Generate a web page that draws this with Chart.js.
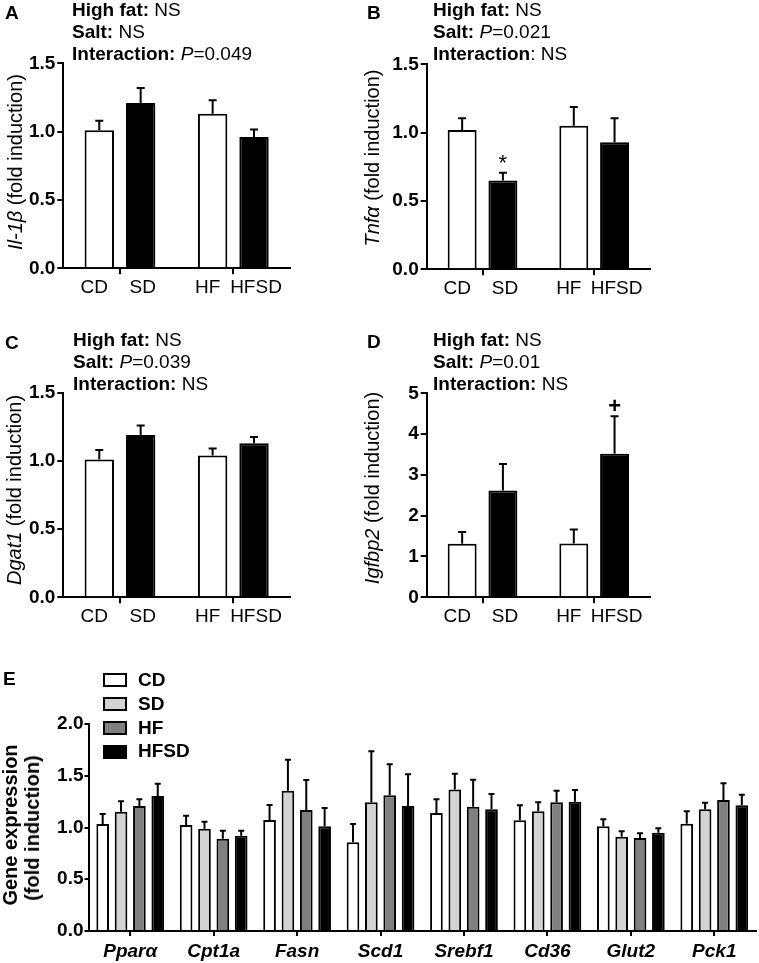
<!DOCTYPE html>
<html><head><meta charset="utf-8">
<script src="https://cdn.jsdelivr.net/npm/chart.js@4.4.1/dist/chart.umd.min.js"></script>
<style>
html,body{margin:0;padding:0;background:#fff;}
body{width:759px;height:963px;position:relative;overflow:hidden;font-family:"Liberation Sans",Arial,sans-serif;color:#000;}
canvas{position:absolute;}
.t{position:absolute;white-space:nowrap;font-size:19px;line-height:22px;z-index:2;}
.yt{position:absolute;white-space:nowrap;font-size:20px;line-height:20px;transform:translate(-50%,-50%) rotate(-90deg);z-index:2;}
.lb{position:absolute;box-sizing:border-box;border:2px solid #000;width:24px;height:14px;z-index:2;}
</style></head><body>

<div class="t" style="left:5px;top:2px;font-weight:bold">A</div>
<div class="t" style="left:367px;top:2px;font-weight:bold">B</div>
<div class="t" style="left:5px;top:332px;font-weight:bold">C</div>
<div class="t" style="left:367px;top:331px;font-weight:bold">D</div>
<div class="t" style="left:3px;top:668px;font-weight:bold">E</div>

<div class="t" style="left:72px;top:-1px"><b>High fat:</b> NS<br><b>Salt:</b> NS<br><b>Interaction:</b> <i>P</i>=0.049</div>
<div class="t" style="left:433px;top:-1px"><b>High fat:</b> NS<br><b>Salt:</b> <i>P</i>=0.021<br><b>Interaction</b>: NS</div>
<div class="t" style="left:73px;top:329px"><b>High fat:</b> NS<br><b>Salt:</b> <i>P</i>=0.039<br><b>Interaction:</b> NS</div>
<div class="t" style="left:433px;top:329px"><b>High fat:</b> NS<br><b>Salt:</b> <i>P</i>=0.01<br><b>Interaction:</b> NS</div>

<div class="yt" style="left:15px;top:162px"><i>Il-1β</i> (fold induction)</div>
<div class="yt" style="left:372px;top:158px"><i>Tnfα</i> (fold induction)</div>
<div class="yt" style="left:14px;top:490px"><i>Dgat1</i> (fold induction)</div>
<div class="yt" style="left:372px;top:488px"><i>Igfbp2</i> (fold induction)</div>
<div class="yt" style="left:10px;top:825px;font-weight:bold">Gene expression</div>
<div class="yt" style="left:32px;top:828px;font-weight:bold">(fold induction)</div>

<div id="legend"></div>

<canvas id="cA" width="360" height="300" style="left:0;top:0"></canvas>
<canvas id="cB" width="394" height="300" style="left:365px;top:0"></canvas>
<canvas id="cC" width="360" height="310" style="left:0;top:320px"></canvas>
<canvas id="cD" width="394" height="310" style="left:365px;top:320px"></canvas>
<canvas id="cE" width="759" height="323" style="left:0;top:640px"></canvas>

<script>
// ---------- data ----------
const groups = ['CD', 'SD', 'HF', 'HFSD'];

const il1bMean = [1.01, 1.21, 1.13, 0.96];
const il1bSem  = [0.07, 0.11, 0.10, 0.055];

const tnfaMean = [1.02, 0.65, 1.05, 0.93];
const tnfaSem  = [0.086, 0.056, 0.137, 0.175];

const dgat1Mean = [1.01, 1.19, 1.04, 1.13];
const dgat1Sem  = [0.07, 0.07, 0.05, 0.045];

const igfbp2Mean = [1.31, 2.62, 1.32, 3.52];
const igfbp2Sem  = [0.29, 0.65, 0.34, 0.92];

const genes = ['Pparα', 'Cpt1a', 'Fasn', 'Scd1', 'Srebf1', 'Cd36', 'Glut2', 'Pck1'];
const cdMean   = [1.034, 1.024, 1.072, 0.857, 1.140, 1.069, 1.011, 1.037];
const cdSem    = [0.096, 0.090, 0.145, 0.177, 0.132, 0.145, 0.068, 0.119];
const sdMean   = [1.153, 0.989, 1.356, 1.243, 1.366, 1.156, 0.911, 1.176];
const sdSem    = [0.100, 0.067, 0.299, 0.493, 0.154, 0.087, 0.052, 0.064];
const hfMean   = [1.208, 0.892, 1.169, 1.311, 1.201, 1.243, 0.899, 1.266];
const hfSem    = [0.064, 0.077, 0.290, 0.300, 0.261, 0.113, 0.045, 0.161];
const hfsdMean = [1.304, 0.921, 1.011, 1.208, 1.176, 1.250, 0.950, 1.214];
const hfsdSem  = [0.119, 0.048, 0.177, 0.306, 0.148, 0.112, 0.042, 0.103];

const groupColors = ['#ffffff', '#d3d3d3', '#808080', '#000000'];

// ---------- helpers ----------
const FONT = "'Liberation Sans', Arial, sans-serif";

const errPlugin = {
  id: 'errbars',
  afterDatasetsDraw(chart, args, opts) {
    const ctx = chart.ctx, y = chart.scales.y;
    chart.data.datasets.forEach((ds, i) => {
      const meta = chart.getDatasetMeta(i);
      meta.data.forEach((el, j) => {
        const top = y.getPixelForValue(ds.data[j] + ds.sem[j]);
        ctx.save();
        ctx.strokeStyle = '#000';
        ctx.lineWidth = 2;
        ctx.beginPath();
        ctx.moveTo(el.x, el.y);
        ctx.lineTo(el.x, top);
        ctx.moveTo(el.x - opts.cap, top);
        ctx.lineTo(el.x + opts.cap, top);
        ctx.stroke();
        ctx.fillStyle = '#000';
        ctx.textAlign = 'center';
        ctx.textBaseline = 'alphabetic';
        if (ds.marks && ds.marks[j]) {
          ctx.font = (ds.marks[j] === '+' ? 'bold ' : '') + '22px ' + FONT;
          ctx.fillText(ds.marks[j], el.x, top - 3);
        }
        if (ds.barLabels) {
          ctx.font = '19px ' + FONT;
          ctx.fillText(ds.barLabels[j], el.x + (ds.labelShift || 0), chart.chartArea.bottom + 25);
        }
        ctx.restore();
      });
    });
  }
};

function layoutFor(canvas, area) {
  const cx = parseFloat(canvas.style.left) || 0;
  const cy = parseFloat(canvas.style.top) || 0;
  return {
    padding: { left: 0, top: area.t - cy, right: cx + canvas.width - area.r, bottom: 0 },
    yWidth: area.l - cx,
    xHeight: cy + canvas.height - area.b
  };
}

function axisCommon() {
  return {
    border: { display: true, color: '#000', width: 2 },
    grid: { display: true, drawOnChartArea: false, drawTicks: true, color: '#000', lineWidth: 2 }
  };
}

function smallPanel(id, mean, sem, yMax, yStep, dec, marks, area) {
  const canvas = document.getElementById(id);
  const L = layoutFor(canvas, area);
  const pick = (arr, k) => [arr[k], arr[k + 2]];
  const mk = marks || {};
  const datasets = [0, 1].map(k => ({
    data: pick(mean, k),
    sem: pick(sem, k),
    barLabels: pick(groups, k),
    labelShift: k === 0 ? -5 : 2,
    marks: [mk[k] || null, mk[k + 2] || null],
    backgroundColor: k === 0 ? '#ffffff' : '#000000',
    borderColor: '#000',
    borderWidth: 2,
    categoryPercentage: 0.73,
    barPercentage: 0.71
  }));
  const xc = axisCommon(), yc = axisCommon();
  new Chart(canvas, {
    type: 'bar',
    data: { labels: [groups[0] + '/' + groups[1], groups[2] + '/' + groups[3]], datasets },
    options: {
      responsive: false, animation: false, events: [],
      layout: { padding: L.padding },
      plugins: { legend: { display: false }, tooltip: { enabled: false }, errbars: { cap: 4 } },
      scales: {
        x: {
          border: xc.border,
          grid: Object.assign({}, xc.grid, { offset: false, tickLength: 6 }),
          ticks: { display: false },
          afterFit: s => { s.height = L.xHeight; }
        },
        y: {
          min: 0, max: yMax,
          border: yc.border,
          grid: Object.assign({}, yc.grid, { tickLength: 6 }),
          ticks: {
            stepSize: yStep, padding: 2, color: '#000',
            font: { family: FONT, size: 19, weight: 'bold' },
            callback: v => Number(v).toFixed(dec)
          },
          afterFit: s => { s.width = L.yWidth; }
        }
      }
    },
    plugins: [errPlugin]
  });
}

smallPanel('cA', il1bMean, il1bSem, 1.5, 0.5, 1, null, { l: 63.3, r: 290, t: 63.3, b: 268.3 });
smallPanel('cB', tnfaMean, tnfaSem, 1.5, 0.5, 1, { 1: '*' }, { l: 426.7, r: 650, t: 64.3, b: 269.3 });
smallPanel('cC', dgat1Mean, dgat1Sem, 1.5, 0.5, 1, null, { l: 63.3, r: 290, t: 392.7, b: 597.3 });
smallPanel('cD', igfbp2Mean, igfbp2Sem, 5, 1, 0, { 3: '+' }, { l: 426.7, r: 650, t: 393.3, b: 597.3 });

// ---------- panel E ----------
(function () {
  const canvas = document.getElementById('cE');
  const L = layoutFor(canvas, { l: 88.5, r: 756, t: 724, b: 931 });
  const means = [cdMean, sdMean, hfMean, hfsdMean];
  const sems = [cdSem, sdSem, hfSem, hfsdSem];
  const datasets = groups.map((g, k) => ({
    label: g,
    data: means[k],
    sem: sems[k],
    backgroundColor: groupColors[k],
    borderColor: '#000',
    borderWidth: 2,
    categoryPercentage: 0.88,
    barPercentage: 0.69
  }));
  const xc = axisCommon(), yc = axisCommon();
  new Chart(canvas, {
    type: 'bar',
    data: { labels: genes, datasets },
    options: {
      responsive: false, animation: false, events: [],
      layout: { padding: L.padding },
      plugins: { legend: { display: false }, tooltip: { enabled: false }, errbars: { cap: 3 } },
      scales: {
        x: {
          border: xc.border,
          grid: Object.assign({}, xc.grid, { offset: false, tickLength: 5 }),
          ticks: {
            padding: 4, color: '#000', maxRotation: 0, autoSkip: false,
            font: { family: FONT, size: 19, weight: 'bold', style: 'italic' }
          },
          afterFit: s => { s.height = L.xHeight; }
        },
        y: {
          min: 0, max: 2,
          border: yc.border,
          grid: Object.assign({}, yc.grid, { tickLength: 4 }),
          ticks: {
            stepSize: 0.5, padding: 1, color: '#000',
            font: { family: FONT, size: 19, weight: 'bold' },
            callback: v => Number(v).toFixed(1)
          },
          afterFit: s => { s.width = L.yWidth; }
        }
      }
    },
    plugins: [errPlugin]
  });

  // legend (HTML, real text)
  const legend = document.getElementById('legend');
  const rowCenters = [679.7, 703.8, 728.3, 751.5];
  groups.forEach((g, k) => {
    const box = document.createElement('div');
    box.className = 'lb';
    box.style.left = '103px';
    box.style.top = (rowCenters[k] - 7) + 'px';
    box.style.background = groupColors[k];
    legend.appendChild(box);
    const txt = document.createElement('div');
    txt.className = 't';
    txt.style.left = '138px';
    txt.style.top = (rowCenters[k] + 6.5 - 17.6) + 'px';
    txt.style.fontWeight = 'bold';
    txt.textContent = g;
    legend.appendChild(txt);
  });
})();
</script>
</body></html>
